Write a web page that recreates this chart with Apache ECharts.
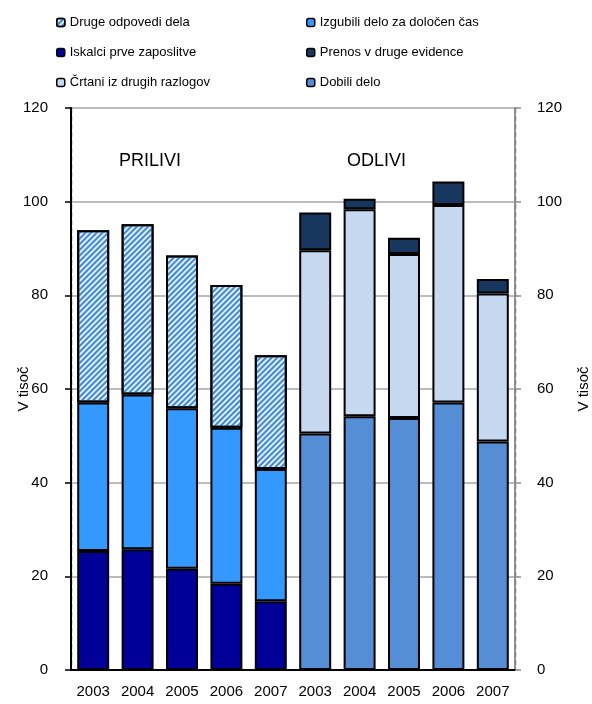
<!DOCTYPE html>
<html>
<head>
<meta charset="utf-8">
<script src="https://cdn.jsdelivr.net/npm/echarts@6/dist/echarts.min.js"></script>
<style>
  html, body { margin: 0; padding: 0; background: #fff; }
  #chart { width: 592px; height: 704px; }
</style>
</head>
<body>
<div id="chart"></div>
<script>
// Years shown twice: inflows (PRILIVI) then outflows (ODLIVI)
const years = ['2003', '2004', '2005', '2006', '2007'];
const categories = years.concat(years);
const yTicks = { min: 0, max: 120, interval: 20 };

// Inflows, thousands
const iskalciPrveZaposlitve = [25.4, 25.8, 21.6, 18.4, 14.7];
const izgubiliDeloZaDolocenCas = [31.7, 33.0, 34.3, 33.3, 28.2];
const drugeOdpovediDela = [36.8, 36.4, 32.6, 30.5, 24.3];

// Outflows, thousands
const dobiliDelo = [50.5, 54.2, 53.8, 57.1, 48.8];
const crtaniIzDrugihRazlogov = [39.1, 44.2, 35.0, 42.2, 31.6];
const prenosVDrugeEvidence = [8.1, 2.2, 3.5, 5.0, 3.1];

const groupLabels = ['PRILIVI', 'ODLIVI'];

const blanks = years.map(() => null);
const inflow = arr => arr.concat(blanks);
const outflow = arr => blanks.concat(arr);

const font = 'Liberation Sans, Arial, sans-serif';
const border = { borderColor: '#000', borderWidth: 2 };

function bar(name, data, color, extra) {
  return {
    name: name,
    type: 'bar',
    stack: 'total',
    barWidth: '72%',
    data: data,
    itemStyle: Object.assign({ color: color }, border, extra || {}),
    emphasis: { disabled: true }
  };
}

const chart = echarts.init(document.getElementById('chart'), null, { renderer: 'canvas' });

const legendText = { fontFamily: font, fontSize: 13, color: '#000' };
const legendIcon = { borderColor: '#000', borderWidth: 1.5 };

chart.setOption({
  animation: false,
  textStyle: { fontFamily: font },
  legend: [
    {
      orient: 'vertical', left: 51, top: 11, itemGap: 17,
      itemWidth: 8, itemHeight: 8, textStyle: legendText, itemStyle: legendIcon,
      data: ['Druge odpovedi dela', 'Iskalci prve zaposlitve', 'Črtani iz drugih razlogov']
    },
    {
      orient: 'vertical', left: 301, top: 11, itemGap: 17,
      itemWidth: 8, itemHeight: 8, textStyle: legendText, itemStyle: legendIcon,
      data: ['Izgubili delo za določen čas', 'Prenos v druge evidence', 'Dobili delo']
    }
  ],
  grid: { left: 71, right: 77, top: 108, bottom: 34, outerBoundsMode: 'none' },
  xAxis: [
    {
      type: 'category',
      data: categories,
      axisLine: { lineStyle: { color: '#000', width: 2 } },
      axisTick: { interval: 4, length: 6, lineStyle: { color: '#000', width: 1.5 } },
      axisLabel: { color: '#000', fontSize: 15, fontFamily: font, margin: 14, interval: 0 },
      splitLine: {
        show: true,
        interval: (idx) => idx === 5,
        lineStyle: { color: '#000', type: [5, 3], width: 1.3 }
      }
    },
    {
      type: 'category',
      position: 'top',
      data: categories,
      axisLine: { lineStyle: { color: '#000', width: 2 } },
      axisTick: { show: false },
      axisLabel: { show: false },
      splitLine: { show: false }
    }
  ],
  yAxis: [
    {
      type: 'value',
      min: yTicks.min, max: yTicks.max, interval: yTicks.interval,
      name: 'V tisoč',
      nameLocation: 'middle',
      nameGap: 40,
      nameMoveOverlap: false,
      nameRotate: 90,
      nameTextStyle: { fontSize: 15, color: '#000', fontFamily: font },
      axisLine: { show: true, lineStyle: { color: '#000', width: 2 } },
      axisTick: { show: true, length: 6, lineStyle: { color: '#000', width: 1.5 } },
      axisLabel: { color: '#000', fontSize: 15, fontFamily: font, margin: 23 },
      splitLine: { show: true, lineStyle: { color: '#a6a6a6', width: 1.5 } }
    },
    {
      type: 'value',
      position: 'right',
      min: yTicks.min, max: yTicks.max, interval: yTicks.interval,
      name: 'V tisoč',
      nameLocation: 'middle',
      nameGap: 61,
      nameMoveOverlap: false,
      nameRotate: 90,
      nameTextStyle: { fontSize: 15, color: '#000', fontFamily: font },
      axisLine: { show: true, lineStyle: { color: '#8c8c8c', width: 2, type: [3, 1] } },
      axisTick: { show: true, length: 6, lineStyle: { color: '#8c8c8c', width: 1.5 } },
      axisLabel: { color: '#000', fontSize: 15, fontFamily: font, margin: 22 },
      splitLine: { show: false }
    }
  ],
  series: [
    bar('Iskalci prve zaposlitve', inflow(iskalciPrveZaposlitve), '#000099'),
    bar('Izgubili delo za določen čas', inflow(izgubiliDeloZaDolocenCas), '#3399ff'),
    bar('Druge odpovedi dela', inflow(drugeOdpovediDela), '#e2edf8', {
      decal: {
        symbol: 'rect',
        color: '#3d8ad6',
        dashArrayX: [1, 0],
        dashArrayY: [2, 2],
        rotation: -Math.PI / 4
      }
    }),
    bar('Dobili delo', outflow(dobiliDelo), '#558ed5'),
    bar('Črtani iz drugih razlogov', outflow(crtaniIzDrugihRazlogov), '#c6d9f1'),
    bar('Prenos v druge evidence', outflow(prenosVDrugeEvidence), '#17375e')
  ],
  graphic: [
    { type: 'text', left: 119, top: 152, style: { text: groupLabels[0], fontSize: 18, fontFamily: font, fill: '#000' } },
    { type: 'text', left: 347, top: 152, style: { text: groupLabels[1], fontSize: 18, fontFamily: font, fill: '#000' } }
  ]
});
</script>
</body>
</html>
